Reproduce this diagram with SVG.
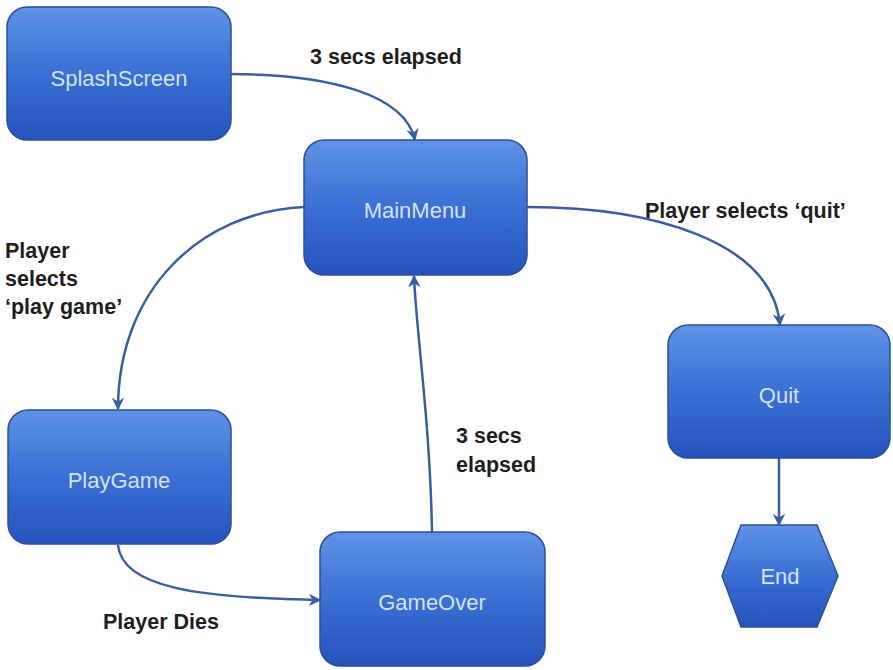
<svg xmlns="http://www.w3.org/2000/svg" width="893" height="670" viewBox="0 0 893 670">
<defs>
<linearGradient id="g" x1="0" y1="0" x2="0" y2="1">
<stop offset="0" stop-color="#5e93e6"/>
<stop offset="0.5" stop-color="#3a6fd4"/>
<stop offset="1" stop-color="#2553bd"/>
</linearGradient>
<marker id="arr" viewBox="0 0 10 10" refX="9" refY="5" markerWidth="5" markerHeight="5" orient="auto" markerUnits="strokeWidth">
<path d="M0,0 L10,5 L0,10 L3,5 z" fill="#3a5f9e"/>
</marker>
</defs>
<style>
.n{fill:url(#g);stroke:#2d4f96;stroke-width:1.5}
.nt{font-family:"Liberation Sans",Arial,sans-serif;font-size:22px;fill:#d4e3f8;text-anchor:middle}
.lb{font-family:"Liberation Sans",Arial,sans-serif;font-size:21.5px;font-weight:bold;fill:#1e1e1e}
.c{fill:none;stroke:#3a5f9e;stroke-width:2.5;marker-end:url(#arr)}
</style>
<rect width="893" height="670" fill="#ffffff"/>
<g id="connectors">
<path class="c" d="M231,74 C330,74 405,95 415,140"/>
<path class="c" d="M304,207 C200,212 118,290 118,409"/>
<path class="c" d="M118,545 C122,588 200,598 320,600"/>
<path class="c" d="M432,532 C430,420 416,330 414,276"/>
<path class="c" d="M527,207 C650,207 772,240 780,325"/>
<path class="c" d="M779,458 L779,525"/>
</g>
<g id="splash"><rect class="n" x="7" y="7" width="224" height="133" rx="20"/><text class="nt" x="119" y="86">SplashScreen</text></g>
<g id="mainmenu"><rect class="n" x="304" y="140" width="223" height="135" rx="20"/><text class="nt" x="415" y="218">MainMenu</text></g>
<g id="playgame"><rect class="n" x="8" y="410" width="223" height="134" rx="20"/><text class="nt" x="119" y="488">PlayGame</text></g>
<g id="gameover"><rect class="n" x="320" y="532" width="225" height="134" rx="20"/><text class="nt" x="432" y="610">GameOver</text></g>
<g id="quit"><rect class="n" x="668" y="325" width="222" height="133" rx="20"/><text class="nt" x="779" y="403">Quit</text></g>
<g id="end"><polygon class="n" points="722,576 741,525 817,525 838,576 817,627 741,627"/><text class="nt" x="780" y="584">End</text></g>
<g id="labels">
<text class="lb" x="310" y="64">3 secs elapsed</text>
<text class="lb" x="645" y="218">Player selects ‘quit’</text>
<text class="lb" x="5" y="258">Player</text>
<text class="lb" x="5" y="286">selects</text>
<text class="lb" x="5" y="314">‘play game’</text>
<text class="lb" x="456" y="443">3 secs</text>
<text class="lb" x="456" y="472">elapsed</text>
<text class="lb" x="103" y="629">Player Dies</text>
</g>
</svg>
